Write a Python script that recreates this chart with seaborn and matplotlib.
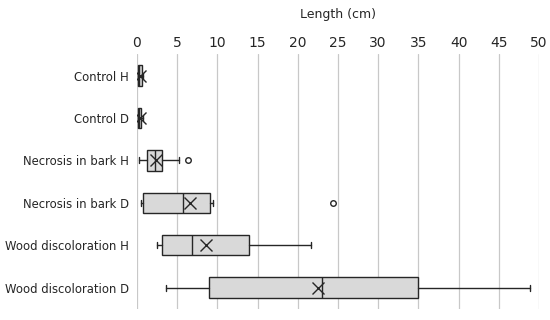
import matplotlib
matplotlib.use('Agg')
import matplotlib.pyplot as plt
import seaborn as sns

# five-number summaries (cm)
groups = ["Control H", "Control D", "Necrosis in bark H", "Necrosis in bark D",
          "Wood discoloration H", "Wood discoloration D"]
whislo = [0.1, 0.1, 0.2, 0.5, 2.5, 3.6]
q1 = [0.1, 0.1, 1.3, 0.7, 3.1, 8.9]
med = [0.3, 0.3, 2.3, 5.7, 6.9, 23.0]
q3 = [0.6, 0.5, 3.1, 9.1, 13.9, 35.0]
whishi = [0.8, 0.7, 5.2, 9.5, 21.6, 48.9]
means = [0.4, 0.4, 2.4, 6.6, 8.6, 22.5]
outliers = [[], [], [6.3], [24.4], [], []]

sns.set_style("whitegrid")
plt.rcParams['font.family'] = ['DejaVu Sans']

stats = []
for i, g in enumerate(groups):
    stats.append(dict(label=g, whislo=whislo[i], q1=q1[i], med=med[i], q3=q3[i],
                      whishi=whishi[i], mean=means[i], fliers=outliers[i]))

fig, ax = plt.subplots(figsize=(5.5, 3.2), dpi=100)
fig.subplots_adjust(left=0.249, right=0.98, top=0.83, bottom=0.035)

edge = "#262626"
ax.bxp(stats, positions=range(len(groups)), vert=False, widths=0.48,
       showmeans=True, patch_artist=True, capwidths=0.14,
       boxprops=dict(facecolor="#d9d9d9", edgecolor=edge, linewidth=1.0),
       medianprops=dict(color=edge, linewidth=1.0),
       whiskerprops=dict(color=edge, linewidth=1.0),
       capprops=dict(color=edge, linewidth=1.0),
       meanprops=dict(marker="x", markeredgecolor=edge, markersize=8, markeredgewidth=1.0),
       flierprops=dict(marker="o", markerfacecolor="none", markeredgecolor=edge,
                       markersize=4, markeredgewidth=1.0))

ax.set_xlim(0, 50)
ax.set_ylim(len(groups) - 0.5, -0.5)
ax.set_xticks(range(0, 51, 5))
ax.set_yticks(range(len(groups)))
ax.set_yticklabels(groups)
ax.xaxis.tick_top()
ax.xaxis.set_label_position("top")
ax.set_xlabel("Length (cm)", fontsize=9, labelpad=13)
ax.tick_params(axis='x', labelsize=10, length=0, pad=3)
ax.tick_params(axis='y', labelsize=8.4, length=0, pad=6)
ax.grid(axis='x', color="#c8c8c8", linewidth=0.9)
ax.grid(axis='y', visible=False)
for s in ax.spines.values():
    s.set_visible(False)

plt.savefig("out.png", dpi=100)
